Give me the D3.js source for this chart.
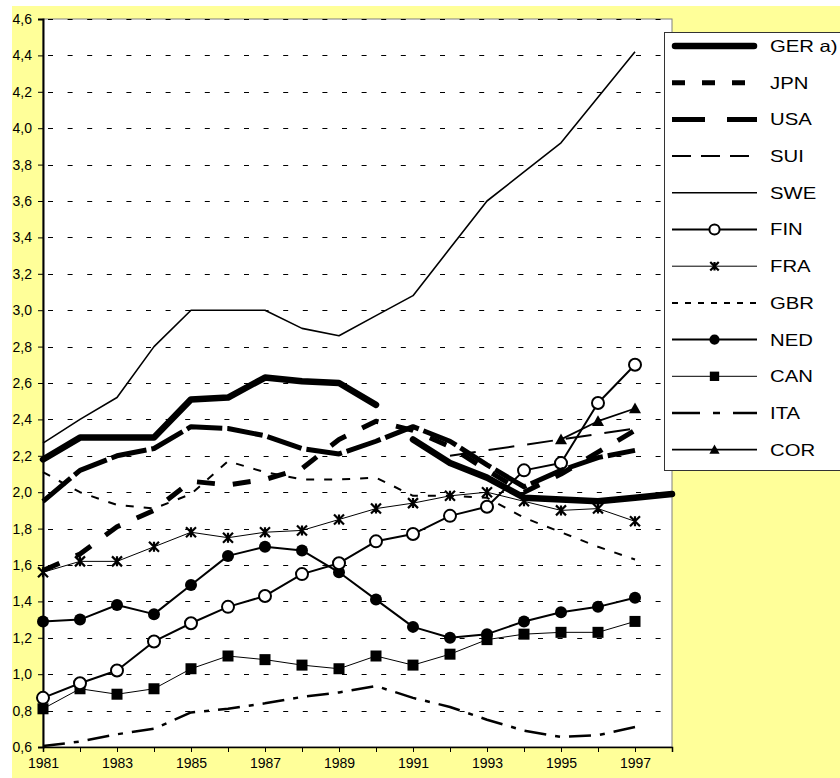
<!DOCTYPE html>
<html lang="en">
<head>
    <meta charset="utf-8">
    <style>
     body {
        margin: 0;
        background-color: white;
     }

     svg {
        font-family: 'Liberation Sans', Arial, sans-serif;
     }

     .grid line {
        stroke: black;
        stroke-width: 1px;
        stroke-dasharray: 5, 14.6;
     }

     .series {
        fill: none;
        stroke: black;
        stroke-linejoin: round;
     }

     .legend-label {
        font-size: 16.5px;
        fill: black;
     }
    </style>
</head>
<body>
    <svg width=840 height=778></svg>
    <script src="https://cdnjs.cloudflare.com/ajax/libs/d3/7.8.5/d3.min.js"></script>

    <script>
    // years on the x axis and the labelled ones
    const years = [1981, 1982, 1983, 1984, 1985, 1986, 1987, 1988, 1989,
                   1990, 1991, 1992, 1993, 1994, 1995, 1996, 1997];
    const xLabelYears = [1981, 1983, 1985, 1987, 1989, 1991, 1993, 1995, 1997];
    const yTicks = [0.6, 0.8, 1.0, 1.2, 1.4, 1.6, 1.8, 2.0, 2.2, 2.4, 2.6,
                    2.8, 3.0, 3.2, 3.4, 3.6, 3.8, 4.0, 4.2, 4.4, 4.6];

    // GER a): west Germany to 1990, unified from 1991 (drawn as two pieces)
    const gerWestYears = [1981, 1982, 1983, 1984, 1985, 1986, 1987, 1988, 1989, 1990];
    const gerWest = [2.18, 2.30, 2.30, 2.30, 2.51, 2.52, 2.63, 2.61, 2.60, 2.48];
    const gerUnifiedYears = [1991, 1992, 1993, 1994, 1995, 1996, 1997, 1998];
    const gerUnified = [2.29, 2.16, 2.08, 1.97, 1.96, 1.95, 1.97, 1.99];

    const jpn = [1.57, 1.66, 1.81, 1.90, 2.06, 2.04, 2.07, 2.13, 2.29, 2.39, 2.34, 2.25, 2.12, 2.00, 2.10, 2.22, 2.34];
    const usa = [1.95, 2.12, 2.20, 2.24, 2.36, 2.35, 2.31, 2.24, 2.21, 2.28, 2.36, 2.28, 2.15, 2.03, 2.12, 2.19, 2.23];
    const suiYears = [1992, 1993, 1994, 1995, 1996, 1997];
    const sui = [2.20, 2.23, 2.26, 2.29, 2.32, 2.35];
    const swe = [2.27, 2.40, 2.52, 2.80, 3.00, 3.00, 3.00, 2.90, 2.86, 2.97, 3.08, 3.34, 3.60, 3.76, 3.92, 4.17, 4.42];
    const fin = [0.87, 0.95, 1.02, 1.18, 1.28, 1.37, 1.43, 1.55, 1.61, 1.73, 1.77, 1.87, 1.92, 2.12, 2.16, 2.49, 2.70];
    const fra = [1.56, 1.62, 1.62, 1.70, 1.78, 1.75, 1.78, 1.79, 1.85, 1.91, 1.94, 1.98, 2.00, 1.95, 1.90, 1.91, 1.84];
    const gbr = [2.11, 2.00, 1.93, 1.91, 1.99, 2.17, 2.11, 2.07, 2.07, 2.08, 1.98, 1.98, 1.97, 1.86, 1.78, 1.70, 1.63];
    const ned = [1.29, 1.30, 1.38, 1.33, 1.49, 1.65, 1.70, 1.68, 1.56, 1.41, 1.26, 1.20, 1.22, 1.29, 1.34, 1.37, 1.42];
    const can = [0.81, 0.92, 0.89, 0.92, 1.03, 1.10, 1.08, 1.05, 1.03, 1.10, 1.05, 1.11, 1.19, 1.22, 1.23, 1.23, 1.29];
    const ita = [0.605, 0.63, 0.67, 0.70, 0.79, 0.81, 0.84, 0.875, 0.90, 0.935, 0.87, 0.82, 0.75, 0.69, 0.655, 0.665, 0.71];
    const corYears = [1995, 1996, 1997];
    const cor = [2.29, 2.39, 2.46];

    const legendNames = ["GER a)", "JPN", "USA", "SUI", "SWE", "FIN", "FRA", "GBR", "NED", "CAN", "ITA", "COR"];

    // plot frame
    const plot = {left: 43, top: 19, right: 672, bottom: 747};

    const x = d3.scaleLinear().domain([1981, 1998]).range([plot.left, plot.right]);
    const y = d3.scaleLinear().domain([0.6, 4.6]).range([plot.bottom, plot.top]);

    const svg = d3.select("svg");

    // yellow chart area
    svg.append("rect")
      .attr("x", 12).attr("y", 6)
      .attr("width", 840).attr("height", 778)
      .attr("fill", "#ffff99");

    svg.append("rect")
      .attr("x", plot.left).attr("y", plot.top)
      .attr("width", plot.right - plot.left).attr("height", plot.bottom - plot.top)
      .attr("fill", "white")
      .attr("stroke", "#808080")
      .attr("stroke-width", 1);

    svg.append("g")
      .attr("class", "grid")
      .selectAll("line")
      .data(yTicks.slice(1))
      .join("line")
        .attr("x1", plot.left + 1).attr("x2", plot.right)
        .attr("y1", d => Math.round(y(d)) + 0.5)
        .attr("y2", d => Math.round(y(d)) + 0.5)
        .attr("stroke-dashoffset", -4);

    // axes
    const yAxis = d3.axisLeft(y).tickValues(yTicks).tickSize(5).tickPadding(6)
      .tickFormat(d => d3.format(".1f")(d).replace(".", ","));
    svg.append("g")
      .attr("transform", "translate(" + plot.left + ",0)")
      .call(yAxis)
      .attr("font-size", 14)
      .attr("font-family", null)
      .call(g => g.select(".domain").attr("stroke-width", 2));

    const xAxis = d3.axisBottom(x).tickValues(d3.range(1981, 1999)).tickSize(5).tickPadding(6)
      .tickFormat(d => xLabelYears.includes(d) ? d : "");
    svg.append("g")
      .attr("transform", "translate(0," + plot.bottom + ")")
      .call(xAxis)
      .attr("font-size", 14)
      .attr("font-family", null)
      .call(g => g.select(".domain").attr("stroke-width", 1.5));

    // line styles for the plot and for the legend
    const styles = {
      "GER a)": {width: 6.5, dash: null, legendDash: null, cap: "round"},
      "JPN": {width: 5, dash: "18,18", legendDash: "13,17"},
      "USA": {width: 5, dash: "36,5", legendDash: "33,22"},
      "SUI": {width: 2, dash: "26,13", legendDash: "19,10"},
      "SWE": {width: 1.6, dash: null, legendDash: null},
      "FIN": {width: 2, dash: null, legendDash: null, marker: "openCircle"},
      "FRA": {width: 1, dash: null, legendDash: null, marker: "star"},
      "GBR": {width: 2, dash: "8,10", legendDash: "6,7"},
      "NED": {width: 2, dash: null, legendDash: null, marker: "dot"},
      "CAN": {width: 1, dash: null, legendDash: null, marker: "square"},
      "ITA": {width: 2.5, dash: "22,9,5,9", legendDash: "28,13,7,13"},
      "COR": {width: 1.8, dash: null, legendDash: null, marker: "triangle"}
    };

    const series = [
      {name: "ITA", years: years, values: ita},
      {name: "CAN", years: years, values: can},
      {name: "NED", years: years, values: ned},
      {name: "GBR", years: years, values: gbr},
      {name: "FRA", years: years, values: fra},
      {name: "FIN", years: years, values: fin},
      {name: "SWE", years: years, values: swe},
      {name: "SUI", years: suiYears, values: sui},
      {name: "COR", years: corYears, values: cor},
      {name: "USA", years: years, values: usa},
      {name: "JPN", years: years, values: jpn},
      {name: "GER a)", years: gerWestYears, values: gerWest},
      {name: "GER a)", years: gerUnifiedYears, values: gerUnified}
    ];

    const line = d3.line()
      .x(d => x(d[0]))
      .y(d => y(d[1]));

    function drawMarker(g, type, cx, cy, scale) {
      const s = scale;
      if (type === "openCircle") {
        g.append("circle").attr("cx", cx).attr("cy", cy).attr("r", 6 * s)
          .attr("fill", "white").attr("stroke", "black").attr("stroke-width", 2);
      } else if (type === "dot") {
        g.append("circle").attr("cx", cx).attr("cy", cy).attr("r", 6 * s).attr("fill", "black");
      } else if (type === "square") {
        g.append("rect").attr("x", cx - 5.5 * s).attr("y", cy - 5.5 * s)
          .attr("width", 11 * s).attr("height", 11 * s).attr("fill", "black");
      } else if (type === "triangle") {
        const h = 6 * s;
        g.append("path")
          .attr("d", "M" + cx + "," + (cy - h) + "L" + (cx + h) + "," + (cy + h * 0.8) + "L" + (cx - h) + "," + (cy + h * 0.8) + "Z")
          .attr("fill", "black");
      } else if (type === "star") {
        const h = 5 * s;
        g.append("path")
          .attr("d", "M" + (cx - h) + "," + (cy - h) + "L" + (cx + h) + "," + (cy + h) +
                     "M" + (cx + h) + "," + (cy - h) + "L" + (cx - h) + "," + (cy + h) +
                     "M" + cx + "," + (cy - h) + "L" + cx + "," + (cy + h))
          .attr("fill", "none").attr("stroke", "black").attr("stroke-width", 2.2);
      }
    }

    const lines = svg.append("g");
    series.forEach(s => {
      const st = styles[s.name];
      const pts = s.years.map((yr, i) => [yr, s.values[i]]);
      lines.append("path")
        .datum(pts)
        .attr("class", "series")
        .attr("d", line)
        .attr("stroke-width", st.width)
        .attr("stroke-dasharray", st.dash)
        .attr("stroke-linecap", st.cap || "butt");
      if (st.marker) {
        const mg = lines.append("g");
        pts.forEach(p => drawMarker(mg, st.marker, x(p[0]), y(p[1]), 1));
      }
    });

    // legend
    const legend = svg.append("g").attr("transform", "translate(664,32)");
    legend.append("rect")
      .attr("x", 0.5).attr("y", 0.5)
      .attr("width", 200).attr("height", 438)
      .attr("fill", "white")
      .attr("stroke", "#333")
      .attr("stroke-width", 1);

    legendNames.forEach((name, i) => {
      const st = styles[name];
      const ly = 14 + i * 36.7;
      const item = legend.append("g");
      item.append("line")
        .attr("x1", st.cap ? 11 : 8).attr("x2", st.cap ? 90 : 93)
        .attr("y1", ly).attr("y2", ly)
        .attr("stroke", "black")
        .attr("stroke-width", st.width)
        .attr("stroke-dasharray", st.legendDash)
        .attr("stroke-linecap", st.cap || "butt");
      if (st.marker) drawMarker(item, st.marker, 50.5, ly, 0.85);
      // the reference lettering is set wider than plain Arial
      item.append("text")
        .attr("class", "legend-label")
        .attr("transform", "translate(106," + ly + ") scale(1.23,1)")
        .attr("dy", "0.36em")
        .text(name);
    });
    </script>
</body>
</html>
